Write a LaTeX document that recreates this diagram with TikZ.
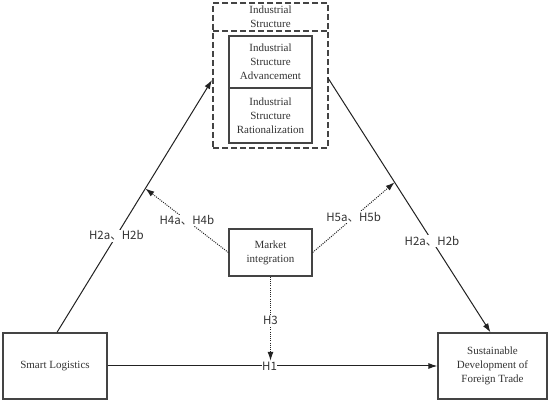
\documentclass[tikz,border=0pt]{standalone}
\usepackage{fontspec}
\setmainfont{Liberation Serif}
\newfontfamily\labfont{Noto Sans CJK SC}
\usetikzlibrary{arrows.meta,calc}
\definecolor{boxline}{HTML}{444444}
\definecolor{linecol}{HTML}{222222}
\definecolor{txtcol}{HTML}{333333}
\begin{document}
\begin{tikzpicture}[x=1pt,y=-1pt,
  boxtext/.style={font=\fontsize{11}{14}\selectfont, text=txtcol, align=center, inner sep=0pt},
  solidbox/.style={boxtext, draw=boxline, line width=1.3pt},
  dashbox/.style={boxtext, draw=boxline, line width=1.3pt, dash pattern=on 6pt off 3pt},
  conn/.style={draw=linecol, line width=1pt},
  arr/.style={conn, -{Latex[length=9pt,width=6pt]}},
  dotconn/.style={draw=linecol, line width=1pt, dash pattern=on 1pt off 1.2pt},
  lab/.style={font=\labfont\fontsize{11.5}{13}\selectfont, text=txtcol, fill=white, inner sep=1pt}
]
\useasboundingbox[fill=white] (0,0) rectangle (550,406);
% industrial structure group
\node[dashbox, minimum width=115pt, minimum height=145pt] (outer) at (270.5,75.5) {};
\node[dashbox, minimum width=115pt, minimum height=28pt] (ind) at (270.5,17) {Industrial\\Structure};
\node[solidbox, minimum width=83pt, minimum height=52pt] (adv) at (270.5,62) {Industrial\\Structure\\Advancement};
\node[solidbox, minimum width=83pt, minimum height=55pt] (rat) at (270.5,115.5) {Industrial\\Structure\\Rationalization};
% other boxes
\node[solidbox, minimum width=104pt, minimum height=66pt] (sl) at (55,366) {Smart Logistics};
\node[solidbox, minimum width=109pt, minimum height=66pt] (sdft) at (492.5,366) {Sustainable\\Development of\\Foreign Trade};
\node[solidbox, minimum width=83pt, minimum height=47pt] (mi) at (270.5,252.5) {Market\\integration};
% connectors
\coordinate (s1) at ([xshift=2pt]sl.north);
\coordinate (e1) at (212,80);
\coordinate (s2) at (328,78);
\coordinate (e2) at ([xshift=-2pt]sdft.north);
\draw[arr] (s1) -- (e1) node[lab, pos=0.383] (l1) {H2a、H2b};
\draw[arr] (s2) -- (e2) node[lab, pos=0.64] (l2) {H2a、H2b};
\coordinate (p4) at ($(s1)!0.57!(e1)$);
\coordinate (p5) at ($(s2)!0.41!(e2)$);
\draw[dotconn, -{Latex[length=9pt,width=6pt]}] (mi.west) -- (p4) node[lab, pos=0.5] (l4) {H4a、H4b};
\draw[dotconn, -{Latex[length=9pt,width=6pt]}] (mi.east) -- (p5) node[lab, pos=0.5] (l5) {H5a、H5b};
\draw[arr] (sl.east) -- (sdft.east -| sdft.west) node[lab, pos=0.491, inner sep=0.5pt] (l1b) {H1};
\coordinate (h3end) at (mi.south |- l1b.north);
\draw[dotconn, -{Latex[length=9pt,width=6pt]}] (mi.south) -- (h3end) node[lab, pos=0.52] (l3) {H3};
\end{tikzpicture}
\end{document}
